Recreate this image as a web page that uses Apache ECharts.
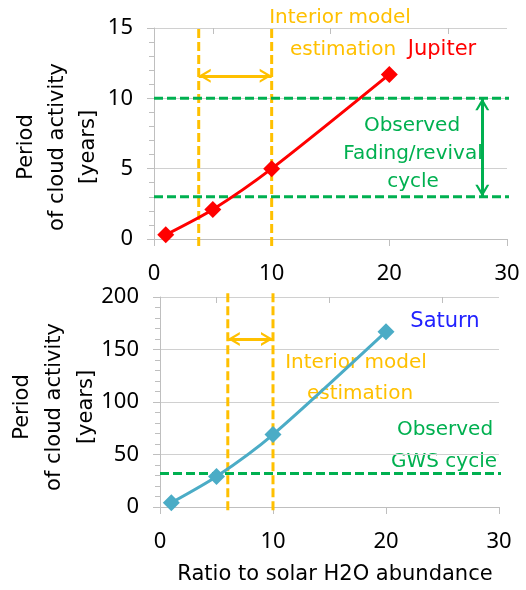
<!DOCTYPE html>
<html>
<head>
<meta charset="utf-8">
<script src="https://cdn.jsdelivr.net/npm/echarts@6/dist/echarts.min.js"></script>
<style>
  html, body { margin: 0; padding: 0; background: #fff; }
  #chart { width: 526px; height: 590px; }
</style>
</head>
<body>
<div id="chart"></div>
<script>
// ratio to solar H2O abundance
const ratios = [1, 5, 10, 20];
const jupiterPeriod = [0.3, 2.1, 5.0, 11.7];
const saturnPeriod = [4, 29, 69, 167];

// interior model estimation ranges (ratio), observed cycles (years)
const jupiterModelRange = [3.8, 10];
const saturnModelRange = [6, 10];
const jupiterObserved = [3, 10];
const saturnObserved = 32;

const ORANGE = "#ffc000";
const GREEN = "#00b050";
const TICK_FONT = "Noto Sans";
const FONT = "DejaVu Sans";

const chevron = "path://M0,0 M0,24 L7,12 L14,24 L11.6,24 L7,16.5 L2.4,24 Z";

const pts = (ys) => ratios.map((r, i) => [r, ys[i]]);

function mainX(grid) {
  return {
    type: "value", gridIndex: grid, min: 0, max: 30, interval: 10,
    axisLine: { show: true, lineStyle: { color: "#bfbfbf", width: 1 } },
    axisTick: { show: true, length: 7, lineStyle: { color: "#bfbfbf" } },
    axisLabel: { fontSize: 22, color: "#000", margin: 24, fontFamily: TICK_FONT },
    splitLine: { show: false },
  };
}
function minorX(grid) {
  return {
    type: "value", gridIndex: grid, min: 0, max: 30, interval: 10,
    axisLine: { show: false },
    axisTick: { show: false, inside: true },
    minorTick: { show: true, splitNumber: 2, length: 6, lineStyle: { color: "#bfbfbf" } },
    axisLabel: { show: false },
    splitLine: { show: false },
  };
}
function mainY(grid, max, interval) {
  return {
    type: "value", gridIndex: grid, min: 0, max: max, interval: interval,
    axisLine: { show: true, lineStyle: { color: "#bfbfbf" } },
    axisTick: { show: true, length: 7, lineStyle: { color: "#bfbfbf" } },
    minorTick: { show: true, splitNumber: 5, length: 5, lineStyle: { color: "#bfbfbf" } },
    axisLabel: { fontSize: 22, color: "#000", margin: 21, fontFamily: TICK_FONT },
    splitLine: { show: true, lineStyle: { color: "#d0d0d0", width: 1 } },
  };
}

function dashed(grid, data, color) {
  return {
    type: "line", xAxisIndex: grid * 2, yAxisIndex: grid, data: data,
    symbol: "none", clip: false, silent: true, z: 1,
    lineStyle: { color: color, width: 3, type: [9, 4] },
  };
}
function arrow(grid, from, to, color) {
  return {
    type: "line", xAxisIndex: grid * 2, yAxisIndex: grid, data: [], silent: true,
    markLine: {
      silent: true, symbol: [chevron, chevron], symbolSize: [14, 24],
      label: { show: false },
      lineStyle: { color: color, width: 3, type: "solid" },
      itemStyle: { color: color },
      emphasis: { disabled: true },
      data: [[{ coord: from }, { coord: to }]],
    },
  };
}
function txt(x, y, text, color, size) {
  return {
    type: "text", x: x, y: y, silent: true,
    style: { text: text, fill: color, font: (size || 20) + "px '" + FONT + "'", align: "center", verticalAlign: "middle" },
  };
}

const chart = echarts.init(document.getElementById("chart"));
chart.setOption({
  animation: false,
  grid: [
    { left: 154, top: 28, width: 353, height: 211 },
    { left: 160, top: 297, width: 339, height: 210 },
  ],
  xAxis: [mainX(0), minorX(0), mainX(1), minorX(1)],
  yAxis: [mainY(0, 15, 5), mainY(1, 200, 50)],
  series: [
    dashed(0, [[jupiterModelRange[0], -0.5], [jupiterModelRange[0], 15]], ORANGE),
    dashed(0, [[jupiterModelRange[1], -0.5], [jupiterModelRange[1], 15]], ORANGE),
    dashed(0, [[0, jupiterObserved[0]], [30.4, jupiterObserved[0]]], GREEN),
    dashed(0, [[0, jupiterObserved[1]], [30.4, jupiterObserved[1]]], GREEN),
    arrow(0, [jupiterModelRange[0], 11.6], [jupiterModelRange[1], 11.6], ORANGE),
    arrow(0, [27.9, jupiterObserved[1]], [27.9, jupiterObserved[0]], GREEN),
    {
      name: "Jupiter", type: "line", xAxisIndex: 0, yAxisIndex: 0, z: 5,
      data: pts(jupiterPeriod), smooth: 0.25,
      symbol: "diamond", symbolSize: 17,
      itemStyle: { color: "#ff0000" },
      lineStyle: { color: "#ff0000", width: 3 },
    },
    dashed(1, [[saturnModelRange[0], -3], [saturnModelRange[0], 204]], ORANGE),
    dashed(1, [[saturnModelRange[1], -3], [saturnModelRange[1], 204]], ORANGE),
    dashed(1, [[0, saturnObserved], [31.6, saturnObserved]], GREEN),
    arrow(1, [saturnModelRange[0], 160], [saturnModelRange[1], 160], ORANGE),
    {
      name: "Saturn", type: "line", xAxisIndex: 2, yAxisIndex: 1, z: 5,
      data: pts(saturnPeriod), smooth: 0.25,
      symbol: "diamond", symbolSize: 17,
      itemStyle: { color: "#4bacc6" },
      lineStyle: { color: "#4bacc6", width: 3 },
    },
  ],
  graphic: [
    txt(340, 18, "Interior model", ORANGE),
    txt(343, 50, "estimation", ORANGE),
    txt(442, 50, "Jupiter", "#ff0000", 21),
    txt(412, 126, "Observed", GREEN),
    txt(413, 154, "Fading/revival", GREEN),
    txt(413, 182, "cycle", GREEN),
    txt(445, 322, "Saturn", "#2222ff", 21),
    txt(356, 363, "Interior model", ORANGE),
    txt(360, 394, "estimation", ORANGE),
    txt(445, 430, "Observed", GREEN),
    txt(444, 462, "GWS cycle", GREEN),
    txt(335, 575, "Ratio to solar H2O abundance", "#000", 21),
    {
      type: "text", x: 58, y: 147, rotation: Math.PI / 2, silent: true,
      style: { text: "Period\nof cloud activity\n[years]", fill: "#000", font: "21px '" + FONT + "'", align: "center", verticalAlign: "middle", lineHeight: 31 },
    },
    {
      type: "text", x: 55, y: 407, rotation: Math.PI / 2, silent: true,
      style: { text: "Period\nof cloud activity\n[years]", fill: "#000", font: "21px '" + FONT + "'", align: "center", verticalAlign: "middle", lineHeight: 32 },
    },
  ],
});
</script>
</body>
</html>
